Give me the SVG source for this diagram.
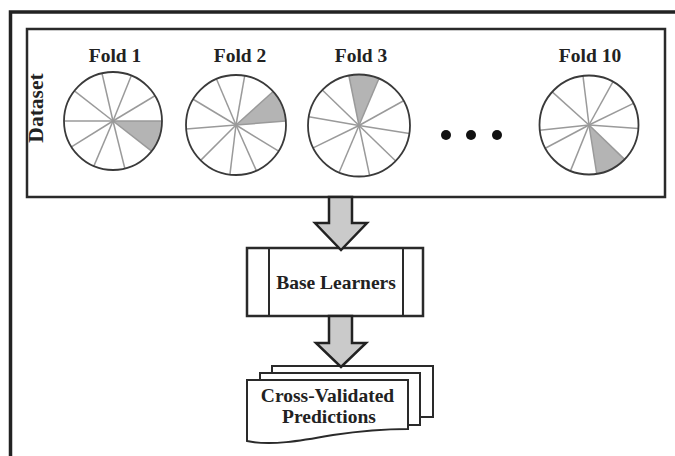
<svg xmlns="http://www.w3.org/2000/svg" width="675" height="456" viewBox="0 0 675 456">
<style>
.t{font-family:"Liberation Serif","Times New Roman",serif;font-weight:bold;fill:#222;font-size:19.5px;text-anchor:middle}
.frame{fill:none;stroke:#222;stroke-width:3.5}
.box{fill:#fff;stroke:#2a2a2a;stroke-width:2.5}
.rim{fill:none;stroke:#3a3a3a;stroke-width:1.8}
.ray{stroke:#9a9a9a;stroke-width:1.5}
.wedge{fill:#b4b4b4;stroke:none}
.arrow{fill:#cacaca;stroke:#222;stroke-width:2.5;stroke-linejoin:miter}
.doc{fill:#fff;stroke:#2a2a2a;stroke-width:2}
</style>
<rect width="675" height="456" fill="#fff"/>
<path class="frame" d="M10.5,456 V12 H675"/>
<g id="dataset">
<rect class="box" x="27" y="29" width="638" height="168"/>
<text class="t" style="font-size:21.5px" transform="translate(43,108) rotate(-90)">Dataset</text>
<g id="fold1">
<text class="t" x="115" y="62">Fold 1</text>
<g transform="translate(113,121)">
<path class="wedge" d="M0,0 L49,0 A49,49 0 0 1 38.6,30.2 Z"/>
<g class="ray">
<line y2="-49" transform="rotate(347)"/><line y2="-49" transform="rotate(22)"/><line y2="-49" transform="rotate(59)"/><line y2="-49" transform="rotate(90)"/><line y2="-49" transform="rotate(128)"/><line y2="-49" transform="rotate(166)"/><line y2="-49" transform="rotate(203)"/><line y2="-49" transform="rotate(238)"/><line y2="-49" transform="rotate(270)"/><line y2="-49" transform="rotate(308)"/>
</g>
<circle class="rim" r="49"/>
</g>
</g>
<g id="fold2">
<text class="t" x="240" y="62">Fold 2</text>
<g transform="translate(236,125)">
<path class="wedge" d="M0,0 L37.2,-33.5 A50,50 0 0 1 49.8,-3.9 Z"/>
<g class="ray">
<line y2="-50" transform="rotate(337)"/><line y2="-50" transform="rotate(10)"/><line y2="-50" transform="rotate(48)"/><line y2="-50" transform="rotate(85.5)"/><line y2="-50" transform="rotate(121.5)"/><line y2="-50" transform="rotate(156)"/><line y2="-50" transform="rotate(187)"/><line y2="-50" transform="rotate(225)"/><line y2="-50" transform="rotate(265.5)"/><line y2="-50" transform="rotate(301)"/>
</g>
<circle class="rim" r="50"/>
</g>
</g>
<g id="fold3">
<text class="t" x="361" y="62">Fold 3</text>
<g transform="translate(359,125.5)">
<path class="wedge" d="M0,0 L-10.2,-50 A51,51 0 0 1 19.9,-46.9 Z"/>
<g class="ray">
<line y2="-51" transform="rotate(348.5)"/><line y2="-51" transform="rotate(23)"/><line y2="-51" transform="rotate(61)"/><line y2="-51" transform="rotate(99)"/><line y2="-51" transform="rotate(134)"/><line y2="-51" transform="rotate(168)"/><line y2="-51" transform="rotate(203)"/><line y2="-51" transform="rotate(244)"/><line y2="-51" transform="rotate(280)"/><line y2="-51" transform="rotate(314)"/>
</g>
<circle class="rim" r="51"/>
</g>
</g>
<g id="dots" fill="#111">
<circle cx="446" cy="135" r="5"/><circle cx="471" cy="135" r="5"/><circle cx="497" cy="135" r="5"/>
</g>
<g id="fold10">
<text class="t" x="590" y="62">Fold 10</text>
<g transform="translate(589,125)">
<path class="wedge" d="M0,0 L35.6,34.4 A49.5,49.5 0 0 1 7.7,48.9 Z"/>
<g class="ray">
<line y2="-49.5" transform="rotate(353)"/><line y2="-49.5" transform="rotate(29)"/><line y2="-49.5" transform="rotate(64)"/><line y2="-49.5" transform="rotate(94)"/><line y2="-49.5" transform="rotate(134)"/><line y2="-49.5" transform="rotate(171)"/><line y2="-49.5" transform="rotate(202)"/><line y2="-49.5" transform="rotate(242)"/><line y2="-49.5" transform="rotate(264)"/><line y2="-49.5" transform="rotate(312)"/>
</g>
<circle class="rim" r="49.5"/>
</g>
</g>
</g>
<g id="base-learners">
<rect class="box" x="247" y="248" width="176" height="68" stroke-width="2"/>
<line x1="269" y1="248" x2="269" y2="316" stroke="#2a2a2a" stroke-width="2"/>
<line x1="403" y1="248" x2="403" y2="316" stroke="#2a2a2a" stroke-width="2"/>
<text class="t" x="336" y="289">Base Learners</text>
</g>
<g id="predictions">
<rect class="doc" x="272" y="366" width="161" height="51"/>
<rect class="doc" x="260" y="373" width="160" height="52"/>
<path class="doc" d="M247,380 H408 V429 C380,429 360,431 333,435 C300,441 270,446 247,441 Z"/>
<text class="t" x="327.5" y="402">Cross-Validated</text>
<text class="t" x="329" y="423">Predictions</text>
</g>
<g id="connectors">
<path class="arrow" d="M329,197 L352,197 L352,223 L367,223 L341,250 L315,223 L329,223 Z"/>
<path class="arrow" d="M329,316 L352,316 L352,343 L366,343 L341,367 L316,343 L329,343 Z"/>
</g>
</svg>
